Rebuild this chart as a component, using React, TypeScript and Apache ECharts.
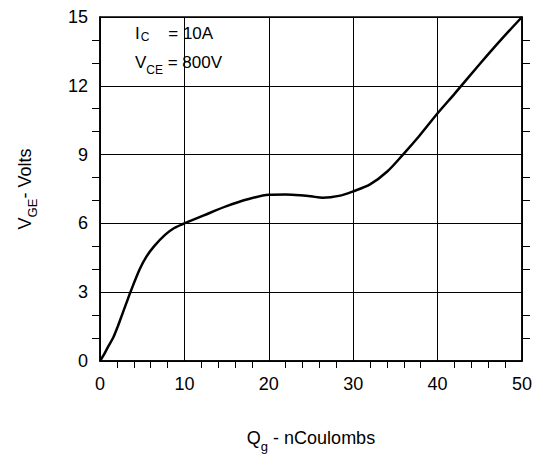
import React, { useEffect, useRef } from "react";
import * as echarts from "echarts";

const qg: number[] = [0, 0.5, 1, 1.6, 2.1, 2.6, 3.1, 3.6, 4.7, 5.5, 6.4, 7.7, 8.8, 10, 12.3, 15, 17.5, 20, 22, 23.7, 25, 26.4, 28.3, 30, 32, 34, 35.9, 37.8, 40, 42, 45, 47.5, 50];
const vge: number[] = [0, 0.3, 0.65, 1.05, 1.5, 2, 2.5, 3, 4, 4.55, 5, 5.5, 5.8, 6, 6.35, 6.75, 7.05, 7.25, 7.26, 7.23, 7.18, 7.12, 7.2, 7.4, 7.7, 8.25, 9, 9.8, 10.8, 11.65, 12.95, 14, 15];
const xTicks: number[] = [0, 10, 20, 30, 40, 50];
const yTicks: number[] = [0, 3, 6, 9, 12, 15];

const FONT = "Liberation Sans, Arial, sans-serif";

export default function App() {
  const ref = useRef<HTMLDivElement>(null);
  useEffect(() => {
    if (!ref.current) return;
    const chart = echarts.init(ref.current, null, { renderer: "svg" });
    const data = qg.map((q, i) => [q, vge[i]]);
    chart.setOption({
      animation: false,
      backgroundColor: "#fff",
      grid: {
        left: 84,
        right: 5,
        top: 7,
        bottom: 86,
        show: true,
        borderColor: "#000",
        borderWidth: 1.5,
      },
      xAxis: {
        type: "value",
        min: xTicks[0],
        max: xTicks[xTicks.length - 1],
        interval: 10,
        name: "{m|Q}{s|g}{m| - nCoulombs}",
        nameLocation: "middle",
        nameGap: 64,
        nameTextStyle: {
          rich: {
            m: { fontFamily: FONT, fontSize: 18, color: "#000", verticalAlign: "bottom", lineHeight: 22 },
            s: { fontFamily: FONT, fontSize: 13, color: "#000", verticalAlign: "bottom", lineHeight: 22, padding: [0, 0, -6, 0] },
          },
        },
        axisLine: { show: true, lineStyle: { color: "#000", width: 1.5 } },
        axisTick: { show: false },
        minorTick: { show: true, splitNumber: 5, length: 7, lineStyle: { color: "#000", width: 1 } },
        axisLabel: { color: "#000", fontFamily: FONT, fontSize: 18, margin: 14 },
        splitLine: { show: true, lineStyle: { color: "#000", width: 1 } },
        minorSplitLine: { show: false },
      },
      yAxis: [
        {
          type: "value",
          min: yTicks[0],
          max: yTicks[yTicks.length - 1],
          interval: 3,
          name: "{m|V}{s|GE}{m|- Volts}",
          nameLocation: "middle",
          nameRotate: 90,
          nameGap: 66,
          nameTextStyle: {
            rich: {
              m: { fontFamily: FONT, fontSize: 18, color: "#000", verticalAlign: "bottom", lineHeight: 22 },
              s: { fontFamily: FONT, fontSize: 13, color: "#000", verticalAlign: "bottom", lineHeight: 22, padding: [0, 0, -5, 0] },
            },
          },
          axisLine: { show: true, lineStyle: { color: "#000", width: 1.5 } },
          axisTick: { show: false },
          minorTick: { show: true, splitNumber: 3, length: 8, lineStyle: { color: "#000", width: 1 } },
          axisLabel: { color: "#000", fontFamily: FONT, fontSize: 18, margin: 12 },
          splitLine: { show: true, lineStyle: { color: "#000", width: 1 } },
        },
        {
          type: "value",
          position: "right",
          min: yTicks[0],
          max: yTicks[yTicks.length - 1],
          interval: 3,
          axisLine: { show: true, lineStyle: { color: "#000", width: 1.5 } },
          axisTick: { show: false },
          minorTick: { show: true, splitNumber: 3, length: 8, lineStyle: { color: "#000", width: 1 } },
          axisLabel: { show: false },
          splitLine: { show: false },
        },
      ],
      graphic: [
        {
          type: "text",
          left: 127,
          top: 17,
          style: {
            text: "{m|I}{s|C}{m|    = 10A}",
            rich: {
              m: { fontFamily: FONT, fontSize: 17, fill: "#000", verticalAlign: "bottom", lineHeight: 20 },
              s: { fontFamily: FONT, fontSize: 12, fill: "#000", verticalAlign: "bottom", lineHeight: 20, padding: [0, 0, -1, 1] },
            },
          },
        },
        {
          type: "text",
          left: 127,
          top: 46,
          style: {
            text: "{m|V}{s|CE}{m| = 800V}",
            rich: {
              m: { fontFamily: FONT, fontSize: 17, fill: "#000", verticalAlign: "bottom", lineHeight: 20 },
              s: { fontFamily: FONT, fontSize: 12, fill: "#000", verticalAlign: "bottom", lineHeight: 20, padding: [0, 0, -5, 0] },
            },
          },
        },
      ],
      series: [
        {
          type: "line",
          data,
          smooth: 0.3,
          symbol: "none",
          lineStyle: { color: "#000", width: 2.5 },
          z: 5,
        },
      ],
    });
    return () => chart.dispose();
  }, []);
  return <div ref={ref} style={{ width: 527, height: 450 }} />;
}
